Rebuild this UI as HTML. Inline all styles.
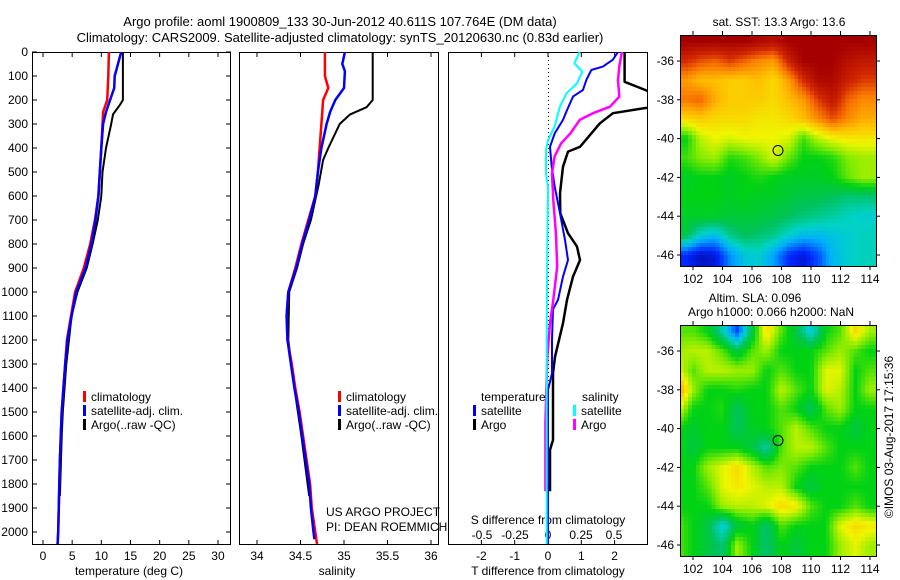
<!DOCTYPE html>
<html><head><meta charset="utf-8">
<style>
body{margin:0;background:#fff;width:900px;height:580px;overflow:hidden;position:relative;font-family:"Liberation Sans",sans-serif;}
svg{position:absolute;left:0;top:0;}
canvas{position:absolute;image-rendering:pixelated;}
text{font-family:"Liberation Sans",sans-serif;fill:#000;}
</style></head>
<body>
<canvas id="sst" width="50" height="58" style="left:680px;top:35px;width:197px;height:232px"></canvas>
<canvas id="sla" width="50" height="58" style="left:680px;top:325px;width:197px;height:232px"></canvas>
<svg id="fig" width="900" height="580"></svg>
<script>
// ---- profile data ----
const tClimDepth=[0,100,200,250,400,600,700,800,900,1000,1100,1200,1300,1500,1700,2000,2050];
const tClimVal=[11.3,11.2,11.0,10.3,10.0,9.5,8.9,8.1,7.0,5.5,4.8,4.1,3.8,3.2,2.9,2.6,2.5];
const tSatDepth=[0,100,150,200,250,300,400,600,700,800,900,1000,1100,1200,1300,1500,1700,2000,2050];
const tSatVal=[13.4,12.3,12.2,11.5,10.8,10.3,10.0,9.5,9.0,8.3,7.3,5.7,4.9,4.2,3.8,3.2,2.9,2.6,2.5];
const tArgoDepth=[0,200,220,260,300,400,500,600,700,800,900,1000,1100,1300,1500,1600,1850];
const tArgoVal=[13.7,13.7,13.2,12.0,11.7,10.8,10.2,10.0,9.4,8.5,7.5,5.9,4.9,4.0,3.4,3.2,2.9];
const sClimDepth=[0,100,150,200,300,400,500,600,700,800,900,1000,1100,1200,1300,1400,1500,1600,1700,1800,1900,2000,2050];
const sClimVal=[34.78,34.78,34.82,34.76,34.74,34.72,34.70,34.67,34.59,34.51,34.44,34.36,34.34,34.35,34.40,34.44,34.49,34.53,34.57,34.61,34.63,34.67,34.69];
const sSatDepth=[0,50,80,150,200,250,300,400,500,600,700,800,900,1000,1100,1200,1300,1400,1500,1600,1700,1800,1900,2000,2030];
const sSatVal=[35.01,34.98,35.01,35.0,34.9,34.84,34.80,34.74,34.70,34.67,34.60,34.52,34.45,34.36,34.34,34.35,34.39,34.43,34.48,34.52,34.56,34.60,34.62,34.65,34.66];
const sArgoDepth=[0,200,230,260,300,400,450,550,700,800,900,1000,1200,1400,1600,1850];
const sArgoVal=[35.33,35.33,35.26,35.07,34.95,34.82,34.76,34.71,34.62,34.53,34.46,34.37,34.36,34.43,34.51,34.60];
// differences from climatology (panel 3)
const dTArgoDepth=[0,124,179,225,255,297,395,415,478,588,672,755,811,867,936,1033,1130,1270,1339,1617,1658,1830];
const dTArgoVal=[2.3,2.3,3.3,3.3,1.95,1.56,0.96,0.6,0.45,0.36,0.37,0.6,0.87,0.96,0.75,0.57,0.45,0.21,0.15,0.15,0.06,0.06];
const dTSatDepth=[0,32,61,75,117,158,186,242,283,339,395,478,561,672,783,867,936,1033,1072,1200,1339,1408,2050];
const dTSatVal=[2.1,1.95,1.65,1.3,1.15,1.05,0.75,0.57,0.45,0.2,0.06,0.11,0.2,0.36,0.51,0.6,0.45,0.3,0.15,0.12,0.12,0.0,0.0];
const dSSatDepth=[0,47,82,131,172,228,311,367,408,506,561,800,1200,2050];
const dSSatVal=[0.24,0.2,0.26,0.22,0.14,0.09,0.05,0.0,-0.015,-0.015,0.0,-0.005,-0.01,-0.01];
const dSArgoDepth=[0,61,117,186,228,255,283,339,380,436,506,617,755,894,1033,1130,1270,1547,1830];
const dSArgoVal=[0.56,0.54,0.53,0.54,0.47,0.34,0.24,0.17,0.1,0.05,0.03,0.04,0.06,0.07,0.04,0.015,-0.005,-0.02,-0.02];
// tick labels
const depthTicks=[0,100,200,300,400,500,600,700,800,900,1000,1100,1200,1300,1400,1500,1600,1700,1800,1900,2000];
const tempTicks=[0,5,10,15,20,25,30];
const salTicks=[34,34.5,35,35.5,36];
const dTTicks=[-2,-1,0,1,2];
const dSTicks=[-0.5,-0.25,0,0.25,0.5];
const lonTicks=[102,104,106,108,110,112,114];
const latTicks=[-36,-38,-40,-42,-44,-46];
// map grids
const sstLons=[101.5,102.5,103.5,104.5,105.5,106.5,107.5,108.5,109.5,110.5,111.5,112.5,113.5];
const sstLats=[-35,-36,-37,-38,-39,-40,-41,-42,-43,-44,-45,-46];
const sstVals=[
[15,15,15,15,15,14.9,14.8,15,15,15,15,15,15],
[14.5,14.3,14.2,14.4,14.2,14.0,13.9,14.6,15,15,15,14.8,14.7],
[13.9,13.7,13.7,13.6,13.6,13.7,13.5,13.9,14.5,14.9,14.9,14.6,14.4],
[14.1,14.2,13.8,13.6,13.6,13.6,13.5,13.7,13.9,14.4,14.7,14.2,14.0],
[13.5,13.6,13.5,13.5,13.5,13.4,13.4,13.5,13.7,14.0,14.3,14.0,13.8],
[12.5,13.1,13.3,13.2,13.3,13.3,13.3,13.2,12.7,13.1,13.3,13.4,13.4],
[12.7,12.9,13.0,12.6,12.7,12.9,13.2,12.8,12.5,12.5,12.6,12.9,13.0],
[12.4,12.5,12.5,12.4,12.5,12.6,12.5,12.4,12.4,12.4,12.5,12.8,13.0],
[12.5,12.5,12.5,12.4,12.5,12.4,12.4,12.3,12.2,12.2,12.1,12.0,12.0],
[12.4,12.4,12.4,12.3,12.3,12.3,12.2,12.1,12.0,11.9,11.8,11.7,11.6],
[12.2,11.6,11.4,11.9,12.1,12.0,11.9,11.6,11.4,11.4,11.5,11.6,11.7],
[10.6,10.3,10.4,11.1,11.5,11.6,11.2,10.6,10.4,10.8,11.4,11.6,11.7]];
const slaLons=[101,102,103,104,105,106,107,108,109,110,111,112,113,114];
const slaLats=[-35,-36,-37,-38,-39,-40,-41,-42,-43,-44,-45,-46];
const slaVals=[
[0.05,0.05,0.0,-0.15,-0.35,-0.05,0.2,0.05,-0.05,-0.2,0.0,0.05,0.2,0.1],
[0.1,0.12,0.12,0.05,-0.05,0.05,0.1,0.0,0.0,0.0,0.05,0.1,0.05,0.0],
[0.15,0.05,0.12,0.12,0.1,0.1,0.0,0.05,0.0,0.0,0.15,0.15,0.0,0.05],
[0.3,0.1,0.0,0.0,0.02,0.0,0.0,0.12,0.05,0.0,0.15,0.12,0.0,0.1],
[0.15,0.0,0.0,0.02,-0.08,0.0,0.0,0.05,0.0,-0.08,0.05,0.1,0.0,0.0],
[0.0,-0.03,0.0,0.0,-0.08,-0.02,0.0,0.05,0.12,0.05,0.0,0.0,-0.05,0.0],
[0.0,-0.05,0.0,0.0,0.0,-0.05,-0.15,0.05,0.12,0.12,0.05,0.0,0.0,0.0],
[0.0,0.0,0.1,0.15,0.2,0.12,0.05,0.08,0.05,0.0,0.0,0.0,0.05,0.0],
[0.0,0.0,0.05,0.15,0.18,0.15,0.12,0.12,0.0,-0.05,0.0,0.0,0.0,0.0],
[0.0,0.0,0.0,0.1,0.12,0.12,0.15,0.2,0.18,0.05,0.0,0.0,0.05,0.0],
[0.05,0.0,-0.05,-0.2,-0.05,0.0,-0.1,0.05,0.0,0.0,0.0,0.15,0.2,0.18],
[0.05,0.0,-0.05,-0.1,0.1,0.0,-0.1,0.0,-0.05,0.0,0.0,0.1,0.15,0.1]];
const argoLon=107.764, argoLat=-40.611;

// ---- axis functions ----
const PT=52, PB=545;
const yD=d=>PT+d*0.24;
const xT=t=>43+t*5.833;
const xS=s=>257+(s-34)*87;
const xDT=t=>548+t*33.3;
const xDS=s=>548+s*132;
const mapL=680,mapR=877;
const xLon=l=>693+(l-102)*14.75;
const yLat=(la,top)=>top+26+(-36-la)*19.4;

const NS='http://www.w3.org/2000/svg';
const svg=document.getElementById('fig');
function el(tag,attrs,parent){const e=document.createElementNS(NS,tag);for(const k in attrs)e.setAttribute(k,attrs[k]);(parent||svg).appendChild(e);return e;}
function txt(x,y,s,anchor,size,parent){const t=el('text',{x:x,y:y,'font-size':size||12,'text-anchor':anchor||'start'},parent);t.textContent=s;return t;}

const defs=el('defs',{});
const panels=[[32,231],[239,439],[448,648]];
panels.forEach((p,i)=>{const c=el('clipPath',{id:'clip'+i},defs);el('rect',{x:p[0],y:PT,width:p[1]-p[0],height:PB-PT},c);});

let t=txt(340,26,'Argo profile: aoml 1900809_133 30-Jun-2012 40.611S 107.764E (DM data)','middle',13);

t=txt(340,42,'Climatology: CARS2009. Satellite-adjusted climatology: synTS_20120630.nc (0.83d earlier)','middle',13);


const names=['temperature-panel','salinity-panel','difference-panel'];
panels.forEach((p,i)=>{const r=el('rect',{x:p[0]+0.5,y:PT+0.5,width:p[1]-p[0]-1,height:PB-PT-1,fill:'none',stroke:'#000','stroke-width':1});
});

depthTicks.forEach(d=>{const y=yD(d);
 el('line',{x1:32,x2:37,y1:y,y2:y,stroke:'#000'});el('line',{x1:226,x2:231,y1:y,y2:y,stroke:'#000'});
 const l=txt(28,y+4,String(d),'end',12);});
function xticks(vals,fx,ly){vals.forEach(v=>{const x=fx(v);el('line',{x1:x,x2:x,y1:PB,y2:PB-5,stroke:'#000'});el('line',{x1:x,x2:x,y1:PT,y2:PT+5,stroke:'#000'});
 const l=txt(x,ly,String(v),'middle',12);});}
xticks(tempTicks,xT,560);
xticks(salTicks,xS,560);
xticks(dTTicks,xDT,560);
dSTicks.forEach(v=>{const l=txt(xDS(v),539,String(v),'middle',12);});
t=txt(129,575,'temperature (deg C)','middle',12);
t=txt(337,575,'salinity','middle',12);
t=txt(548,575,'T difference from climatology','middle',12);
t=txt(548,524,'S difference from climatology','middle',12);
t=txt(326,516,'US ARGO PROJECT','start',12);
t=txt(326,531,'PI: DEAN ROEMMICH','start',12);

el('line',{x1:548.5,x2:548.5,y1:PT,y2:PB,stroke:'#000','stroke-dasharray':'1,3'});

function series(depths,vals,fx,color,w,clip,name){
 const pts=depths.map((d,i)=>fx(vals[i]).toFixed(1)+','+yD(d).toFixed(1)).join(' ');
 const p=el('polyline',{points:pts,fill:'none',stroke:color,'stroke-width':w,'clip-path':'url(#clip'+clip+')','stroke-linejoin':'round'});
 }
series(tArgoDepth,tArgoVal,xT,'#000',2,0,'temp-argo-line');
series(tClimDepth,tClimVal,xT,'#f00',2.5,0,'temp-climatology-line');
series(tSatDepth,tSatVal,xT,'#00f',2.5,0,'temp-satellite-line');
series(sArgoDepth,sArgoVal,xS,'#000',2,1,'sal-argo-line');
series(sClimDepth,sClimVal,xS,'#f00',2.5,1,'sal-climatology-line');
series(sSatDepth,sSatVal,xS,'#00f',2.5,1,'sal-satellite-line');
series(dTArgoDepth,dTArgoVal,xDT,'#000',2.5,2,'tdiff-argo-line');
series(dTSatDepth,dTSatVal,xDT,'#00f',2,2,'tdiff-satellite-line');
series(dSArgoDepth,dSArgoVal,xDS,'#f0f',2.5,2,'sdiff-argo-line');
series(dSSatDepth,dSSatVal,xDS,'#0ff',2,2,'sdiff-satellite-line');

function legItem(x,y,color,label,name){const g=el('g',{});
 el('rect',{x:x,y:y-10,width:3,height:11,fill:color},g);txt(x+8,y,label,'start',12,g);}
[83,338].forEach((x,i)=>{const pre=i?'sal':'temp';
 legItem(x,401,'#f00','climatology',pre+'-legend-climatology');
 legItem(x,415,'#00f','satellite-adj. clim.',pre+'-legend-satellite');
 legItem(x,429,'#000','Argo(..raw -QC)',pre+'-legend-argo');});
t=txt(481,401,'temperature','start',12);
t=txt(582,401,'salinity','start',12);
legItem(473,415,'#00f','satellite','legend-t-satellite');
legItem(473,429,'#000','Argo','legend-t-argo');
legItem(573,415,'#0ff','satellite','legend-s-satellite');
legItem(573,429,'#f0f','Argo','legend-s-argo');

function mapAxes(top,name){const bot=top+232;
 const r=el('rect',{x:mapL+0.5,y:top+0.5,width:mapR-mapL-1,height:bot-top-1,fill:'none',stroke:'#000'});
 
 lonTicks.forEach(l=>{const x=xLon(l);el('line',{x1:x,x2:x,y1:top,y2:top-4,stroke:'#000'});el('line',{x1:x,x2:x,y1:bot,y2:bot+3,stroke:'#000'});
  const s=txt(x,bot+16,String(l),'middle',12);});
 latTicks.forEach(l=>{const y=yLat(l,top);el('line',{x1:mapL,x2:mapL-3,y1:y,y2:y,stroke:'#000'});el('line',{x1:mapR,x2:mapR+3,y1:y,y2:y,stroke:'#000'});
  const s=txt(674,y+4,String(l),'end',12);});
 const c=el('circle',{cx:xLon(argoLon),cy:yLat(argoLat,top),r:5,fill:'none',stroke:'#000','stroke-width':1});
 }
mapAxes(35,'sst-map-frame');mapAxes(325,'sla-map-frame');
t=txt(779,26,'sat. SST: 13.3 Argo: 13.6','middle',12);
t=txt(755,302,'Altim. SLA: 0.096','middle',12);
t=txt(771,316,'Argo h1000: 0.066 h2000: NaN','middle',12);
t=txt(0,0,'\u00a9IMOS 03-Aug-2017 17:15:36','middle',12);t.setAttribute('transform','translate(893,437) rotate(-90)');


// colormap
const cmap=[[0,0,0,130],[0.12,0,40,255],[0.25,0,170,255],[0.33,0,210,200],[0.42,0,195,90],[0.5,0,210,20],[0.58,130,235,0],[0.66,240,245,0],[0.74,255,190,0],[0.82,250,120,0],[0.9,210,40,0],[1,165,0,0]];
function cm(v){v=Math.max(0,Math.min(1,v));for(let i=1;i<cmap.length;i++){if(v<=cmap[i][0]){const a=cmap[i-1],b=cmap[i],f=(v-a[0])/(b[0]-a[0]);
 return [0,1,2].map(k=>Math.round(a[k+1]+(b[k+1]-a[k+1])*f));}}return [165,0,0];}
function interp(lons,lats,vals,lon,lat){
 let fi=(lon-lons[0])/(lons[1]-lons[0]);let fj=(lat-lats[0])/(lats[1]-lats[0]);
 fi=Math.max(0,Math.min(lons.length-1.001,fi));fj=Math.max(0,Math.min(lats.length-1.001,fj));
 const i=Math.floor(fi),j=Math.floor(fj),a=fi-i,b=fj-j;
 return vals[j][i]*(1-a)*(1-b)+vals[j][i+1]*a*(1-b)+vals[j+1][i]*(1-a)*b+vals[j+1][i+1]*a*b;}
function drawMap(id,lons,lats,vals,norm){const cv=document.getElementById(id),ctx=cv.getContext('2d');
 const img=ctx.createImageData(50,58);
 for(let r=0;r<58;r++)for(let c=0;c<50;c++){
  const lon=102+((mapL+(c+0.5)*197/50)-693)/14.75;
  const lat=-36-(((r+0.5)*232/58)-26)/19.4;
  const col=cm(norm(interp(lons,lats,vals,lon,lat)));const k=(r*50+c)*4;
  img.data[k]=col[0];img.data[k+1]=col[1];img.data[k+2]=col[2];img.data[k+3]=255;}
 ctx.putImageData(img,0,0);}
drawMap('sst',sstLons,sstLats,sstVals,v=>(v-10)/5);
drawMap('sla',slaLons,slaLats,slaVals,v=>(v+0.5)/1.0);
</script>
</body></html>
